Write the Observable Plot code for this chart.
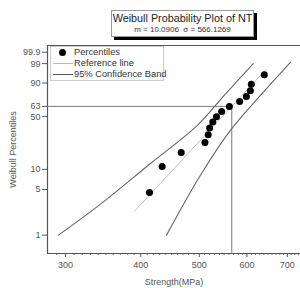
<!DOCTYPE html>
<html>
<head>
<meta charset="utf-8">
<script src="https://cdn.jsdelivr.net/npm/d3@7"></script>
<script src="https://cdn.jsdelivr.net/npm/@observablehq/plot@0.6"></script>
<style>
  html, body { margin: 0; padding: 0; background: #fff; }
  #wrap { position: relative; width: 300px; height: 288px; overflow: hidden; font-family: "Liberation Sans", Arial, sans-serif; }
  #title { position: absolute; left: 111px; top: 10px; width: 141px; height: 25px; border: 1px solid #999; background: #fff; box-shadow: 3px 3px 0 #000; text-align: center; color: #222; }
  #title .t1 { font-size: 10.8px; line-height: 12px; margin-top: 1px; }
  #title .t2 { font-size: 8px; line-height: 10px; margin-top: 1px; color: #333; }
  #legend { position: absolute; left: 50px; top: 46px; width: 112px; height: 33px; border: 1px solid #ccc; background: #fff; font-size: 9.3px; color: #333; }
  #legend .row { position: absolute; left: 0; height: 11px; line-height: 11px; }
  #legend .lab { position: absolute; left: 23px; white-space: nowrap; }
  #legend .sw { position: absolute; }
</style>
</head>
<body>
<div id="wrap">
  <div id="chart"></div>
  <div id="title"><div class="t1">Weibull Probability Plot of NT</div><div class="t2">m = 10.0906 &nbsp;σ = 566.1269</div></div>
  <div id="legend">
    <div class="row" style="top:0px;width:110px"><div class="sw" style="left:8px;top:2px;width:7px;height:7px;border-radius:50%;background:#000"></div><div class="lab">Percentiles</div></div>
    <div class="row" style="top:11px;width:110px"><div class="sw" style="left:2px;top:5px;width:20px;height:1px;background:#bbb"></div><div class="lab">Reference line</div></div>
    <div class="row" style="top:22px;width:110px"><div class="sw" style="left:2px;top:5px;width:20px;height:1px;background:#555"></div><div class="lab">95% Confidence Band</div></div>
  </div>
</div>
<script>
// Data
const strength = [413.5, 434, 466.7, 511, 517.4, 520.3, 526.5, 534, 544.6, 560.9, 583.4, 598.5, 607.7, 610, 641];
const percentile = [4.5, 11.0, 17.5, 24.0, 30.5, 37.0, 43.5, 50.0, 56.5, 63.0, 69.5, 76.0, 82.5, 89.0, 95.5];

const shapeM = 10.0906;
const scaleSigma = 566.1269;

const refStrength = [390, 645];

const lowerBandStrength = [292, 343, 415, 496.5, 546.3, 614.5];
const lowerBandPercentile = [1.0, 3.0, 12.2, 39.8, 74.8, 99.0];
const upperBandStrength = [441.2, 502.3, 563.1, 631.6, 708.3];
const upperBandPercentile = [1.0, 8.2, 34.6, 77.3, 99.2];

const xTicks = [300, 400, 500, 600, 700];
const yTickValues = [1, 5, 10, 50, 63.2, 90, 99, 99.9];
const yTickLabels = ["1", "5", "10", "50", "63", "90", "99", "99.9"];

const xDomain = [280.1, 736];
const yDomainPct = [0.52, 99.985];

// Weibull probability transform
const W = p => Math.log(-Math.log(1 - p / 100));

const points = strength.map((s, i) => ({s, w: W(percentile[i])}));
const refLine = refStrength.map(s => ({s, w: shapeM * (Math.log(s) - Math.log(scaleSigma))}));
const lower = lowerBandStrength.map((s, i) => ({s, w: W(lowerBandPercentile[i])}));
const upper = upperBandStrength.map((s, i) => ({s, w: W(upperBandPercentile[i])}));
const yDom = yDomainPct.map(W);
const guide = [{s: xDomain[0], w: 0}, {s: scaleSigma, w: 0}, {s: scaleSigma, w: yDom[0]}];
const minorTicks = d3.range(290, 740, 10).filter(v => !xTicks.includes(v));

const tickLab = new Map(yTickValues.map((v, i) => [W(v), yTickLabels[i]]));

const chart = Plot.plot({
  width: 300,
  height: 288,
  marginLeft: 47,
  marginRight: 0,
  marginTop: 45,
  marginBottom: 35,
  style: {fontFamily: "Liberation Sans, Arial, sans-serif", fontSize: "9px", color: "#555", background: "#fff"},
  x: {type: "log", domain: xDomain, axis: null},
  y: {type: "linear", domain: yDom, axis: null},
  marks: [
    Plot.axisX({ticks: minorTicks, tickSize: 2, tickFormat: () => "", stroke: "#777", label: null}),
    Plot.axisX({ticks: xTicks, tickSize: 4, tickPadding: 4, tickFormat: d => String(d), fill: "#555", stroke: "#555", label: "Strength(MPa)", labelAnchor: "center", labelArrow: "none", labelOffset: 31}),
    Plot.axisY({ticks: yTickValues.map(W), tickSize: 5, tickPadding: 2, tickFormat: d => tickLab.get(d), fill: "#555", stroke: "#555", label: "Weibull Percentiles", labelAnchor: "center", labelArrow: "none", labelOffset: 38}),
    Plot.ruleX([xDomain[0]], {stroke: "#555", strokeWidth: 1.2}),
    Plot.ruleY([yDom[0]], {stroke: "#555", strokeWidth: 1.2}),
    Plot.ruleY([yDom[1]], {stroke: "#555", strokeWidth: 1.2}),
    Plot.line(guide, {x: "s", y: "w", stroke: "#777", strokeWidth: 1}),
    Plot.line(refLine, {x: "s", y: "w", stroke: "#c4c4c4", strokeWidth: 1}),
    Plot.line(lower, {x: "s", y: "w", stroke: "#666", strokeWidth: 1.1, curve: "catmull-rom"}),
    Plot.line(upper, {x: "s", y: "w", stroke: "#666", strokeWidth: 1.1, curve: "catmull-rom"}),
    Plot.dot(points, {x: "s", y: "w", r: 3.5, fill: "#000", stroke: "none"})
  ]
});
document.getElementById("chart").appendChild(chart);
</script>
</body>
</html>
